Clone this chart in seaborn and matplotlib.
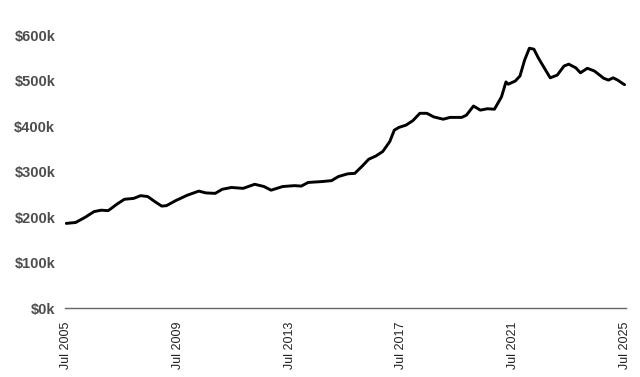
import pandas as pd
import seaborn as sns
import matplotlib.pyplot as plt
import matplotlib.dates as mdates
from matplotlib.ticker import FuncFormatter

months = [
    "2005-07", "2005-11", "2006-03", "2006-07", "2006-10", "2007-01", "2007-05",
    "2007-08", "2007-12", "2008-03", "2008-06", "2008-09", "2008-12", "2009-02",
    "2009-06", "2009-11", "2010-04", "2010-07", "2010-11", "2011-02", "2011-06",
    "2011-11", "2012-04", "2012-08", "2012-11", "2013-04", "2013-09", "2013-12",
    "2014-03", "2014-09", "2015-01", "2015-04", "2015-08", "2015-11", "2016-02",
    "2016-05", "2016-08", "2016-11", "2017-02", "2017-04", "2017-06", "2017-09",
    "2017-12", "2018-03", "2018-06", "2018-09", "2019-01", "2019-04", "2019-09",
    "2019-11", "2020-02", "2020-05", "2020-08", "2020-11", "2021-02", "2021-04",
    "2021-05", "2021-08", "2021-10", "2021-12", "2022-02", "2022-04", "2022-06",
    "2022-09", "2022-11", "2023-02", "2023-05", "2023-07", "2023-10", "2023-12",
    "2024-03", "2024-06", "2024-10", "2024-12", "2025-02", "2025-04", "2025-06",
    "2025-07",
]
prices = [
    186, 188, 199, 212, 215, 214, 229,
    239, 241, 247, 245, 234, 224, 225,
    236, 248, 257, 253, 252, 261, 265,
    263, 272, 267, 259, 267, 269, 268,
    276, 278, 280, 289, 295, 296, 311,
    327, 334, 344, 366, 391, 397, 402,
    412, 428, 428, 420, 415, 419, 419,
    424, 444, 435, 438, 437, 464, 497,
    492, 499, 510, 545, 571, 569, 549,
    523, 506, 512, 532, 536, 528, 517,
    527, 521, 505, 501, 506, 501, 494,
    491,
]
tick_years = [2005, 2009, 2013, 2017, 2021, 2025]

df = pd.DataFrame({"date": pd.to_datetime(months), "price": [p * 1000 for p in prices]})

sns.set_theme(style="white")
plt.rcParams["font.family"] = ["Liberation Sans", "DejaVu Sans"]

fig = plt.figure(figsize=(6.4, 3.77), dpi=100)
ax = fig.add_axes([0.1016, 0.183, 0.8766, 0.724])

sns.lineplot(data=df, x="date", y="price", color="black", linewidth=2.1, ax=ax)
ax.lines[0].set_solid_joinstyle("round")

ax.set_ylim(0, 600000)
ax.set_yticks(range(0, 600001, 100000))
ax.yaxis.set_major_formatter(FuncFormatter(lambda v, _: f"${int(v / 1000)}k"))

ax.set_xlim(pd.Timestamp("2005-06-15"), pd.Timestamp("2025-07-20"))
ax.set_xticks([pd.Timestamp(f"{y}-07-01") for y in tick_years])
ax.xaxis.set_major_formatter(mdates.DateFormatter("%b %Y"))

ax.set_xlabel("")
ax.set_ylabel("")
for s in ["top", "right", "left"]:
    ax.spines[s].set_visible(False)
ax.spines["bottom"].set_color("#666666")
ax.spines["bottom"].set_linewidth(1)

ax.tick_params(axis="y", length=0, pad=7, labelsize=10.5, labelcolor="#4d4d4d")
ax.tick_params(axis="x", length=0, pad=10, labelsize=9, labelcolor="#222222", rotation=90)
for lbl in ax.get_yticklabels():
    lbl.set_fontweight("bold")

fig.savefig("out.png", dpi=100)
